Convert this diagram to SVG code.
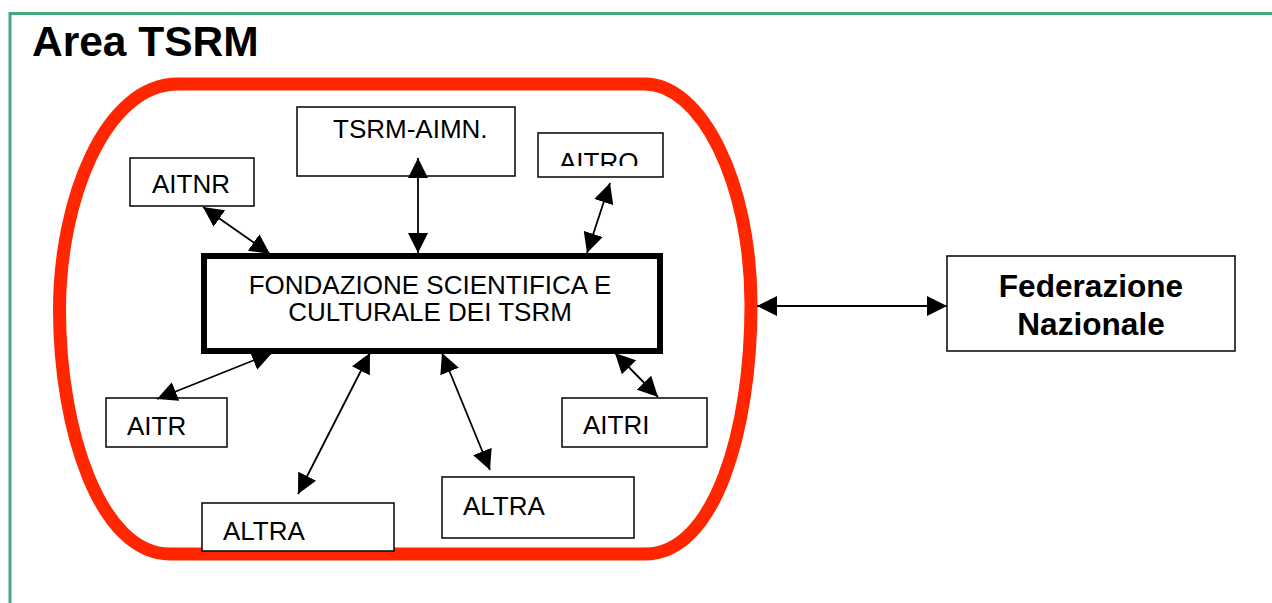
<svg xmlns="http://www.w3.org/2000/svg" width="1272" height="603" viewBox="0 0 1272 603">
<style>
.box{fill:#fff;stroke:#111;stroke-width:1.6}
.t{font-family:"Liberation Sans",Arial,sans-serif;font-size:26px;fill:#000}
.b{font-family:"Liberation Sans",Arial,sans-serif;font-weight:bold;fill:#000}
.c{stroke:#000;stroke-width:1.8;fill:none;marker-start:url(#ah);marker-end:url(#ah)}
</style>
<defs>
<marker id="ah" markerUnits="userSpaceOnUse" markerWidth="20" markerHeight="20" refX="20" refY="10" orient="auto-start-reverse" viewBox="0 0 20 20">
<path d="M0,0 L20,10 L0,20 Z" fill="#000"/>
</marker>
<clipPath id="clipAitro"><rect x="538" y="133" width="125" height="33"/></clipPath>
</defs>
<rect x="0" y="0" width="1272" height="603" fill="#fff"/>
<rect x="10" y="13.5" width="1300" height="700" fill="none" stroke="#45a87c" stroke-width="3"/>
<text class="b" x="32" y="56" font-size="42.5">Area TSRM</text>
<g id="area">
<path d="M178,84 L645,84 C700,84 751,180 751,305 C751,430 715,554 645,554 L170,554 C100,554 59.5,430 59.5,310 C59.5,200 105,84 178,84 Z" fill="none" stroke="#ff2600" stroke-width="13"/>
</g>
<g id="tsrm-aimn">
<rect class="box" x="297" y="107" width="218" height="69"/>
<text class="t" x="333" y="138">TSRM-AIMN.</text>
</g>
<g id="aitro">
<rect class="box" x="538" y="133" width="125" height="44"/>
<text class="t" x="559" y="171" clip-path="url(#clipAitro)">AITRO</text>
</g>
<g id="aitnr">
<rect class="box" x="130" y="158" width="124" height="48"/>
<text class="t" x="152" y="193">AITNR</text>
</g>
<g id="fondazione">
<rect x="204" y="256" width="456" height="95" fill="#fff" stroke="#000" stroke-width="6"/>
<text class="t" x="430" y="294" text-anchor="middle" font-size="26.4">FONDAZIONE SCIENTIFICA E</text>
<text class="t" x="430" y="321" text-anchor="middle" font-size="26.4">CULTURALE DEI TSRM</text>
</g>
<g id="aitr">
<rect class="box" x="106" y="398" width="121" height="49"/>
<text class="t" x="127" y="435">AITR</text>
</g>
<g id="altra1">
<rect class="box" x="202" y="503" width="192" height="48"/>
<text class="t" x="223" y="540">ALTRA</text>
</g>
<g id="altra2">
<rect class="box" x="442" y="477" width="192" height="61"/>
<text class="t" x="463" y="515">ALTRA</text>
</g>
<g id="aitri">
<rect class="box" x="562" y="398" width="145" height="49"/>
<text class="t" x="583" y="434">AITRI</text>
</g>
<g id="federazione">
<rect class="box" x="947" y="256" width="288" height="95"/>
<text class="b" x="1091" y="297" font-size="31.6" text-anchor="middle">Federazione</text>
<text class="b" x="1091" y="335" font-size="31.6" text-anchor="middle">Nazionale</text>
</g>
<g id="connectors">
<line class="c" x1="203" y1="207" x2="270" y2="254"/>
<line class="c" x1="418" y1="158" x2="418" y2="253"/>
<line class="c" x1="610" y1="183" x2="587" y2="253"/>
<line class="c" x1="272" y1="353" x2="157" y2="399"/>
<line class="c" x1="370" y1="353" x2="298" y2="494"/>
<line class="c" x1="442" y1="353" x2="490" y2="470"/>
<line class="c" x1="615" y1="353" x2="658" y2="397"/>
<line class="c" x1="757" y1="306" x2="947" y2="306"/>
</g>
</svg>
